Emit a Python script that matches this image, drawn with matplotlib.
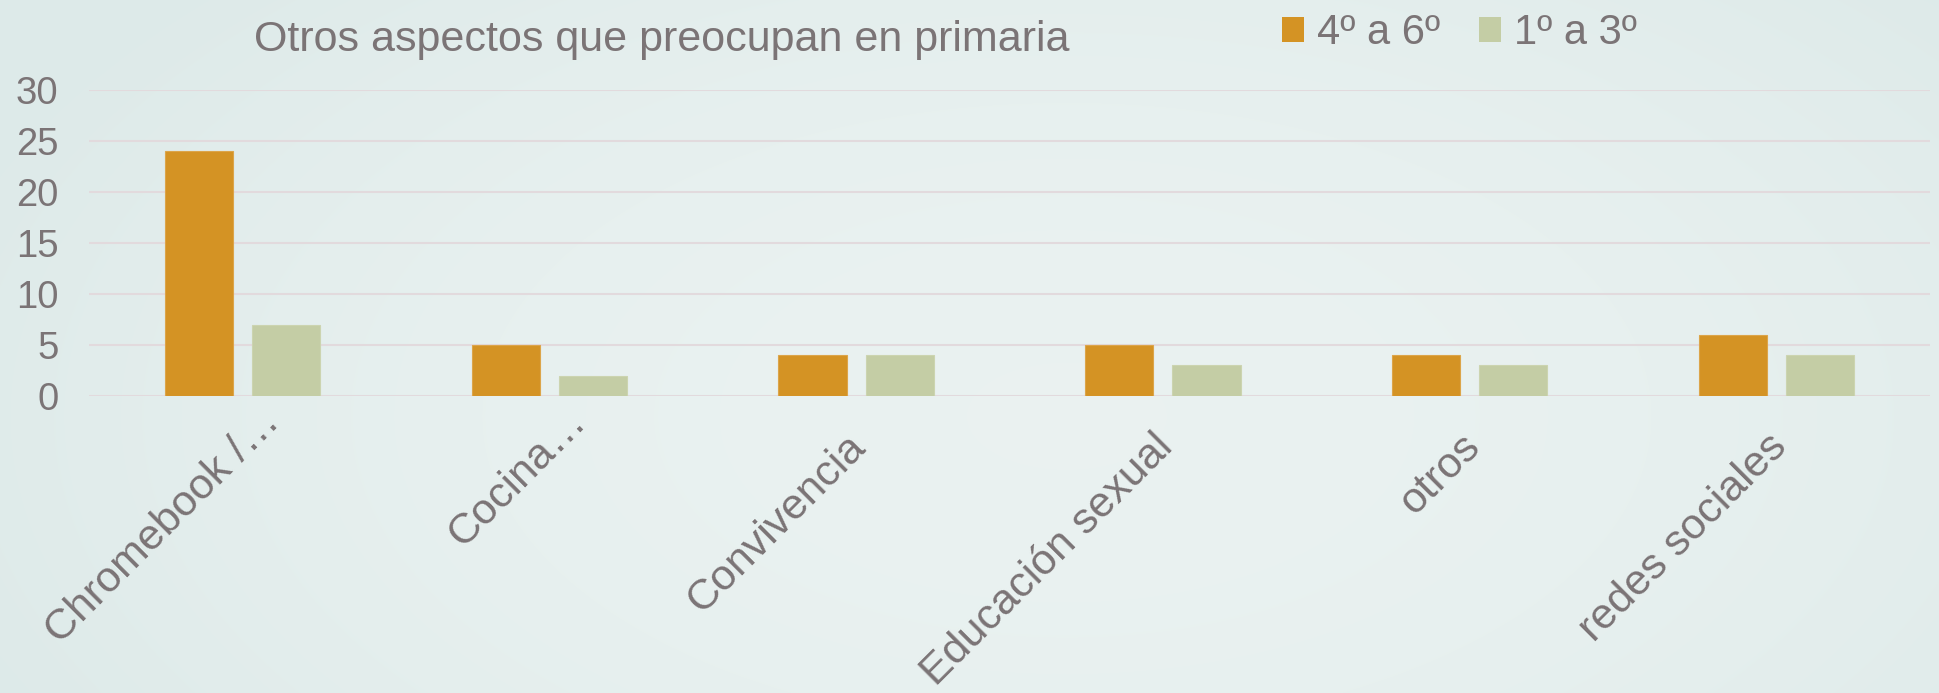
import matplotlib
matplotlib.use("Agg")
import matplotlib.pyplot as plt
import matplotlib.transforms as mtransforms
import numpy as np
from matplotlib.patches import Patch

plt.rcParams['font.family'] = ['Liberation Sans', 'DejaVu Sans']

# data
categories = ['Chromebook /…', 'Cocina…', 'Convivencia', 'Educación sexual', 'otros', 'redes sociales']
serie_4a6 = [24, 5, 4, 5, 4, 6]
serie_1a3 = [7, 2, 4, 3, 3, 4]
series_names = ['4º a 6º', '1º a 3º']
yticks = [0, 5, 10, 15, 20, 25, 30]

W, H = 1939, 693
txt = '#7b7476'
orange = '#d49324'
green = '#c4cda5'

fig = plt.figure(figsize=(W / 100, H / 100), dpi=100, facecolor='#e4eeed')

# soft background gradient, lighter in the middle
yy, xx = np.mgrid[0:H, 0:W]
r = np.sqrt(((xx - W * 0.55) / (W * 0.6)) ** 2 + ((yy - H * 0.6) / (H * 0.9)) ** 2)
r = np.clip(r, 0, 1)
c0 = np.array([0.918, 0.949, 0.945])
c1 = np.array([0.870, 0.918, 0.914])
img = c0 + (c1 - c0) * r[..., None] ** 2
fig.figimage(img, 0, 0, zorder=-10)

ax = fig.add_axes([89 / W, 1 - 396 / H, (1930 - 89) / W, (396 - 90) / H])
ax.set_facecolor('none')

x = np.arange(len(categories))
w = 0.222
off = 0.142
ax.bar(x - off, serie_4a6, w, color=orange, edgecolor='#dca54a', linewidth=0.8, zorder=3)
ax.bar(x + off, serie_1a3, w, color=green, edgecolor='#ccd4b0', linewidth=0.8, zorder=3)

ax.set_xlim(-0.5, len(categories) - 0.5)
ax.set_ylim(0, 30)
ax.set_yticks(yticks)
ax.grid(axis='y', color='#e2dadd', linewidth=1.5, zorder=0)
ax.set_axisbelow(True)
for s in ax.spines.values():
    s.set_visible(False)

ax.tick_params(axis='y', length=0, pad=22, labelsize=27.5, labelcolor=txt)
ax.tick_params(axis='x', length=0, pad=32, labelsize=31, labelcolor=txt)
ax.set_xticks(x)
labels = ax.set_xticklabels(categories, rotation=45, ha='right', va='center', rotation_mode='anchor')
for lab in labels:
    # truncated labels sit a bit further up in the original
    dx, dy = (31, 25) if lab.get_text().endswith('…') else (4, 0)
    lab.set_transform(lab.get_transform() + mtransforms.ScaledTranslation(dx / 100, dy / 100, fig.dpi_scale_trans))

fig.text(662 / W, 1 - 51 / H, 'Otros aspectos que preocupan en primaria',
         ha='center', va='baseline', fontsize=31, color=txt)

handles = [Patch(facecolor=orange), Patch(facecolor=green)]
fig.legend(handles, series_names, loc='center left', bbox_to_anchor=(1282 / W, 1 - 33 / H),
           ncol=2, frameon=False, fontsize=30, labelcolor=txt, borderpad=0, borderaxespad=0,
           handlelength=0.53, handleheight=0.53, handletextpad=0.3, columnspacing=0.95)

fig.savefig('out.png', dpi=100)
